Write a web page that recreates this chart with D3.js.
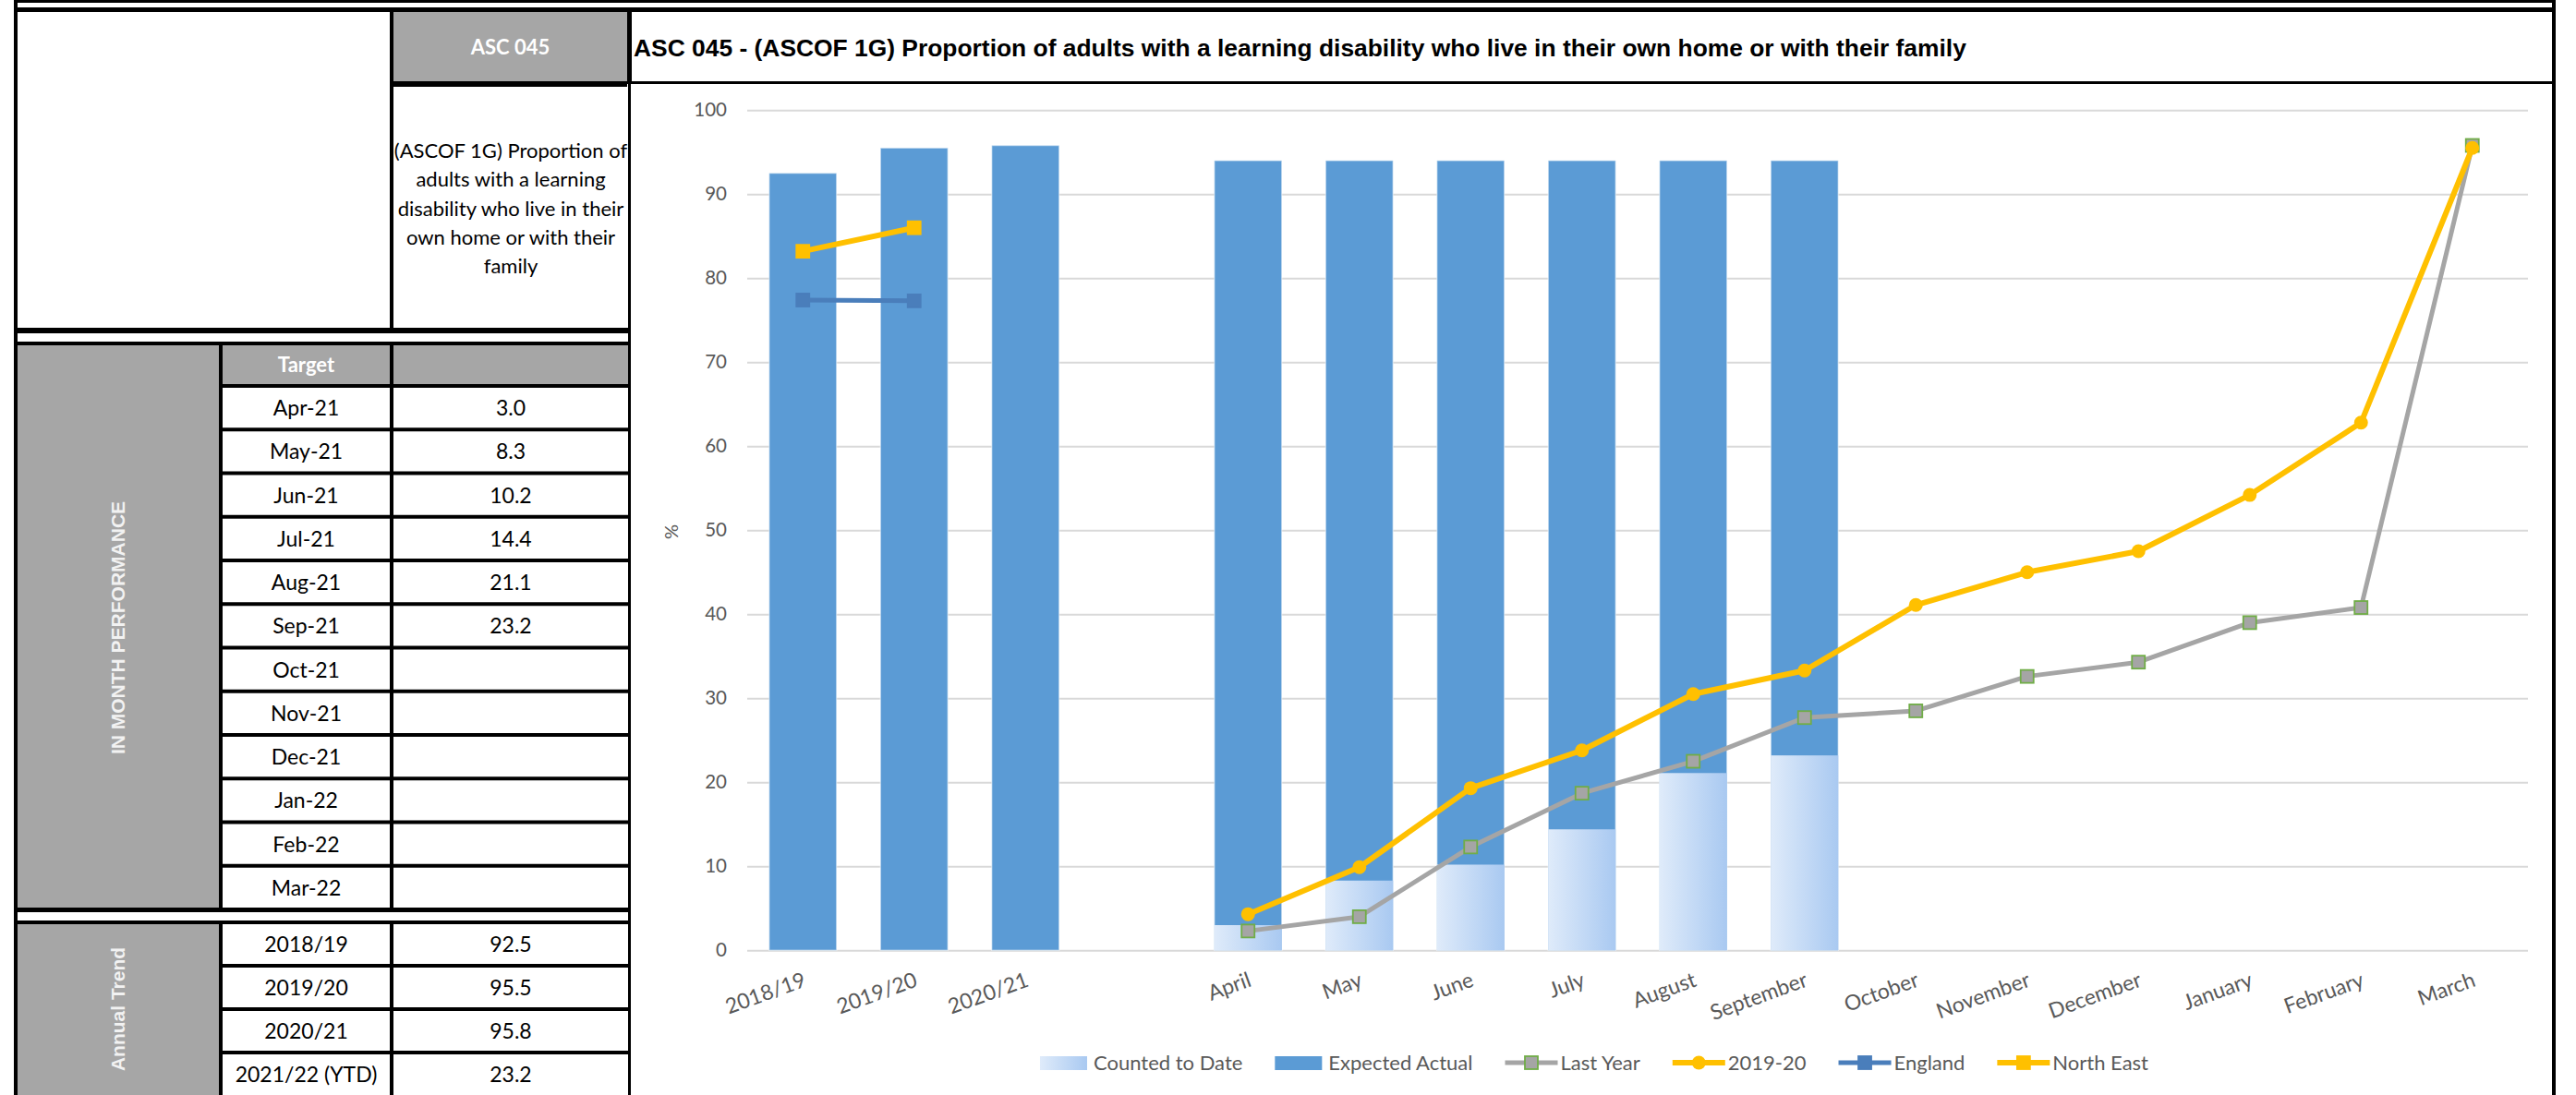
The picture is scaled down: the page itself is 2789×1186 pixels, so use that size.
<!DOCTYPE html>
<html>
<head>
<meta charset="utf-8">
<script src="https://cdn.jsdelivr.net/npm/d3@7"></script>
<style>
  html, body { margin: 0; padding: 0; background: #ffffff; }
  svg { display: block; }
</style>
</head>
<body>
<svg id="sheet" width="2789" height="1186"></svg>
<script>
// ---- Indicator text ----
const indicatorCode = "ASC 045";
const indicatorName = "(ASCOF 1G) Proportion of adults with a learning disability who live in their own home or with their family";
const nameLines = ["(ASCOF 1G) Proportion of", "adults with a learning", "disability who live in their", "own home or with their", "family"];

// ---- Table rows ----
const monthLabels = ["Apr-21", "May-21", "Jun-21", "Jul-21", "Aug-21", "Sep-21", "Oct-21", "Nov-21", "Dec-21", "Jan-22", "Feb-22", "Mar-22"];
const monthValues = [3.0, 8.3, 10.2, 14.4, 21.1, 23.2, null, null, null, null, null, null];
const annualLabels = ["2018/19", "2019/20", "2020/21", "2021/22 (YTD)"];
const annualValues = [92.5, 95.5, 95.8, 23.2];

// ---- Chart series ----
const categories = ["2018/19", "2019/20", "2020/21", "", "April", "May", "June", "July", "August", "September", "October", "November", "December", "January", "February", "March"];
const expectedActual = [92.5, 95.5, 95.8, null, 94.0, 94.0, 94.0, 94.0, 94.0, 94.0, null, null, null, null, null, null];
const countedToDate = [null, null, null, null, 3.0, 8.3, 10.2, 14.4, 21.1, 23.2, null, null, null, null, null, null];
const lastYear = [null, null, null, null, 2.3, 4.0, 12.3, 18.7, 22.5, 27.7, 28.5, 32.6, 34.3, 39.0, 40.8, 95.8];
const year2019_20 = [null, null, null, null, 4.3, 9.9, 19.3, 23.8, 30.5, 33.3, 41.1, 45.0, 47.5, 54.2, 62.8, 95.5];
const england = [77.4, 77.3, null, null, null, null, null, null, null, null, null, null, null, null, null, null];
const northEast = [83.2, 86.0, null, null, null, null, null, null, null, null, null, null, null, null, null, null];
const yTicks = [0, 10, 20, 30, 40, 50, 60, 70, 80, 90, 100];

// ---- Styling ----
const BLACK = "#000000";
const GREY = "#A6A6A6";
const AXIS_TEXT = "#595959";
const GRID = "#D9D9D9";
const SANS = "Lato, 'Open Sans', sans-serif";
const ARIAL = "'Liberation Sans', Arial, sans-serif";

const svg = d3.select("#sheet");
const defs = svg.append("defs");
const grad = defs.append("linearGradient").attr("id", "countGrad")
  .attr("x1", "0").attr("y1", "0").attr("x2", "1").attr("y2", "0");
grad.append("stop").attr("offset", "0").attr("stop-color", "#DFEBFA");
grad.append("stop").attr("offset", "1").attr("stop-color", "#A9C9F1");

function box(g, x, y, w, h, fill) {
  g.append("rect").attr("x", x).attr("y", y).attr("width", w).attr("height", h).attr("fill", fill);
}
function label(g, txt, x, y, opts = {}) {
  return g.append("text").attr("x", x).attr("y", y)
    .attr("text-anchor", opts.anchor || "middle")
    .attr("font-family", opts.family || SANS)
    .attr("font-size", opts.size || 22)
    .attr("font-weight", opts.weight || "normal")
    .attr("fill", opts.fill || BLACK)
    .text(txt);
}

// ================= Sheet frame and table =================
const frame = svg.append("g");
box(frame, 15, 0, 2752, 3, BLACK);
box(frame, 15, 8, 2752, 5, BLACK);
box(frame, 15, 0, 4, 1186, BLACK);
box(frame, 2763, 0, 4, 1186, BLACK);

// indicator header block
box(frame, 422, 13, 4, 342, BLACK);
box(frame, 426, 13, 253, 75, GREY);
box(frame, 426, 88, 253, 6, BLACK);
box(frame, 679, 13, 5, 78, BLACK);
box(frame, 684, 88, 2079, 3, BLACK);
box(frame, 680, 91, 3, 1095, BLACK);
box(frame, 19, 355, 662, 6, BLACK);
box(frame, 19, 370, 662, 4, BLACK);

label(frame, indicatorCode, 552.5, 59, { size: 22, weight: "bold", fill: "#FFFFFF" });
nameLines.forEach((t, i) => label(frame, t, 553, 171 + i * 31.3, { size: 22 }));

// in-month block
const rowTop = 418, rowH = 47.25;
box(frame, 19, 374, 218, 611, GREY);
box(frame, 237, 374, 4, 611, BLACK);
box(frame, 241, 374, 181, 42, GREY);
box(frame, 422, 374, 4, 611, BLACK);
box(frame, 426, 374, 254, 42, GREY);
label(frame, "Target", 331.5, 403, { size: 22, weight: "bold", fill: "#FFFFFF" });
monthLabels.forEach((m, i) => {
  const y0 = rowTop + i * rowH;
  box(frame, 241, y0 - 2, 439, 4, BLACK);
  label(frame, m, 331.5, y0 + rowH / 2 + 8.5, { size: 23 });
  if (monthValues[i] != null) label(frame, monthValues[i].toFixed(1), 553, y0 + rowH / 2 + 8.5, { size: 23 });
});
box(frame, 19, 983, 662, 5, BLACK);
label(frame, "IN MONTH PERFORMANCE", 0, 0, { family: ARIAL, size: 21, weight: "bold", fill: "#F2F2F2" })
  .attr("transform", "translate(135,680) rotate(-90)");

// annual block
const annTop = 999, annH = 47;
box(frame, 19, 997, 662, 4, BLACK);
box(frame, 19, 1001, 218, 185, GREY);
box(frame, 237, 1001, 4, 185, BLACK);
box(frame, 422, 1001, 4, 185, BLACK);
annualLabels.forEach((a, i) => {
  const y0 = annTop + i * annH;
  if (i > 0) box(frame, 241, y0 - 2, 439, 4, BLACK);
  label(frame, a, 331.5, y0 + annH / 2 + 8.5, { size: 23 });
  label(frame, annualValues[i].toFixed(1), 553, y0 + annH / 2 + 8.5, { size: 23 });
});
label(frame, "Annual Trend", 0, 0, { family: ARIAL, size: 21, weight: "bold", fill: "#F2F2F2" })
  .attr("transform", "translate(135,1093) rotate(-90)");

// chart title
label(frame, indicatorCode + " - " + indicatorName, 686, 61, { family: ARIAL, size: 26.4, weight: "bold", anchor: "start" });

// ================= Chart =================
const chart = svg.append("g");
const idx = d3.range(categories.length);
const x = d3.scaleBand().domain(idx).range([809, 2737]).paddingInner(0.394).paddingOuter(0.197);
const cx = i => x(i) + x.bandwidth() / 2;
const y = d3.scaleLinear().domain([0, 100]).range([1029.3, 119.3]);

// gridlines and value labels
const yAxis = chart.append("g").attr("transform", `translate(809,0)`)
  .call(d3.axisLeft(y).tickValues(yTicks).tickSize(-1928).tickPadding(22).tickFormat(d3.format("d")));
yAxis.select(".domain").remove();
yAxis.selectAll(".tick line").attr("stroke", GRID).attr("stroke-width", 2);
yAxis.selectAll(".tick text").attr("fill", AXIS_TEXT).attr("font-family", SANS).attr("font-size", 20.5);

label(chart, "%", 0, 0, { size: 20, fill: AXIS_TEXT }).attr("transform", "translate(734,576) rotate(-90)");

// bars
chart.append("g").selectAll("rect").data(idx.filter(i => expectedActual[i] != null)).join("rect")
  .attr("x", i => x(i)).attr("width", x.bandwidth())
  .attr("y", i => y(expectedActual[i])).attr("height", i => y(0) - y(expectedActual[i]))
  .attr("fill", "#5B9BD5").attr("stroke", "rgba(255,255,255,0.45)").attr("stroke-width", 1.5);
chart.append("g").selectAll("rect").data(idx.filter(i => countedToDate[i] != null)).join("rect")
  .attr("x", i => x(i)).attr("width", x.bandwidth())
  .attr("y", i => y(countedToDate[i])).attr("height", i => y(0) - y(countedToDate[i]))
  .attr("fill", "url(#countGrad)");

// category labels
chart.append("g").selectAll("text").data(idx).join("text")
  .attr("transform", i => `translate(${cx(i) + 2},1060) rotate(-20)`)
  .attr("text-anchor", "end").attr("dy", "0.35em")
  .attr("font-family", SANS).attr("font-size", 23).attr("fill", AXIS_TEXT)
  .text(i => categories[i]);

// line series
const lineSeries = [
  { name: "Last Year", values: lastYear, color: "#A5A5A5", width: 5, marker: "square", mfill: "#A5A5A5", mstroke: "#70AD47", msize: 14 },
  { name: "2019-20", values: year2019_20, color: "#FFC000", width: 6, marker: "circle", mfill: "#FFC000", mstroke: "#FFC000", msize: 15 },
  { name: "England", values: england, color: "#4A7EBB", width: 5, marker: "square", mfill: "#4A7EBB", mstroke: "#4A7EBB", msize: 14 },
  { name: "North East", values: northEast, color: "#FFC000", width: 6, marker: "square", mfill: "#FFC000", mstroke: "#FFC000", msize: 14 }
];
const line = d3.line().defined(d => d.v != null).x(d => cx(d.i)).y(d => y(d.v));

function drawMarker(g, s, px, py) {
  if (s.marker === "circle") {
    g.append("circle").attr("cx", px).attr("cy", py).attr("r", s.msize / 2).attr("fill", s.mfill);
  } else {
    g.append("rect").attr("x", px - s.msize / 2).attr("y", py - s.msize / 2)
      .attr("width", s.msize).attr("height", s.msize)
      .attr("fill", s.mfill).attr("stroke", s.mstroke).attr("stroke-width", 1.8);
  }
}

lineSeries.forEach(s => {
  const pts = s.values.map((v, i) => ({ i, v }));
  const g = chart.append("g");
  g.append("path").attr("d", line(pts)).attr("fill", "none")
    .attr("stroke", s.color).attr("stroke-width", s.width).attr("stroke-linejoin", "round").attr("stroke-linecap", "round");
  pts.filter(d => d.v != null).forEach(d => drawMarker(g, s, cx(d.i), y(d.v)));
});

// ================= Legend =================
const legendItems = [
  { name: "Counted to Date", kind: "bar", fill: "url(#countGrad)" },
  { name: "Expected Actual", kind: "bar", fill: "#5B9BD5" },
  ...lineSeries.map(s => ({ name: s.name, kind: "line", s }))
];
const legend = chart.append("g");
const legendY = 1151;
let cursor = 0;
const placed = [];
legendItems.forEach(it => {
  const keyW = it.kind === "bar" ? 51 : 57;
  const gap = it.kind === "bar" ? 7 : 3;
  const t = legend.append("text").attr("font-family", SANS).attr("font-size", 22)
    .attr("fill", AXIS_TEXT).attr("dy", "0.35em").text(it.name);
  const tw = t.node().getComputedTextLength();
  placed.push({ it, keyW, gap, t, start: cursor });
  cursor += keyW + gap + tw + 35;
});
const total = cursor - 35;
const offset = 1726 - total / 2;
placed.forEach(p => {
  const x0 = offset + p.start;
  if (p.it.kind === "bar") {
    legend.append("rect").attr("x", x0).attr("y", legendY - 7).attr("width", p.keyW).attr("height", 15).attr("fill", p.it.fill);
  } else {
    const s = p.it.s;
    legend.append("line").attr("x1", x0).attr("x2", x0 + p.keyW).attr("y1", legendY).attr("y2", legendY)
      .attr("stroke", s.color).attr("stroke-width", s.width);
    drawMarker(legend, s, x0 + p.keyW / 2, legendY);
  }
  p.t.attr("x", x0 + p.keyW + p.gap).attr("y", legendY);
});
</script>
</body>
</html>
